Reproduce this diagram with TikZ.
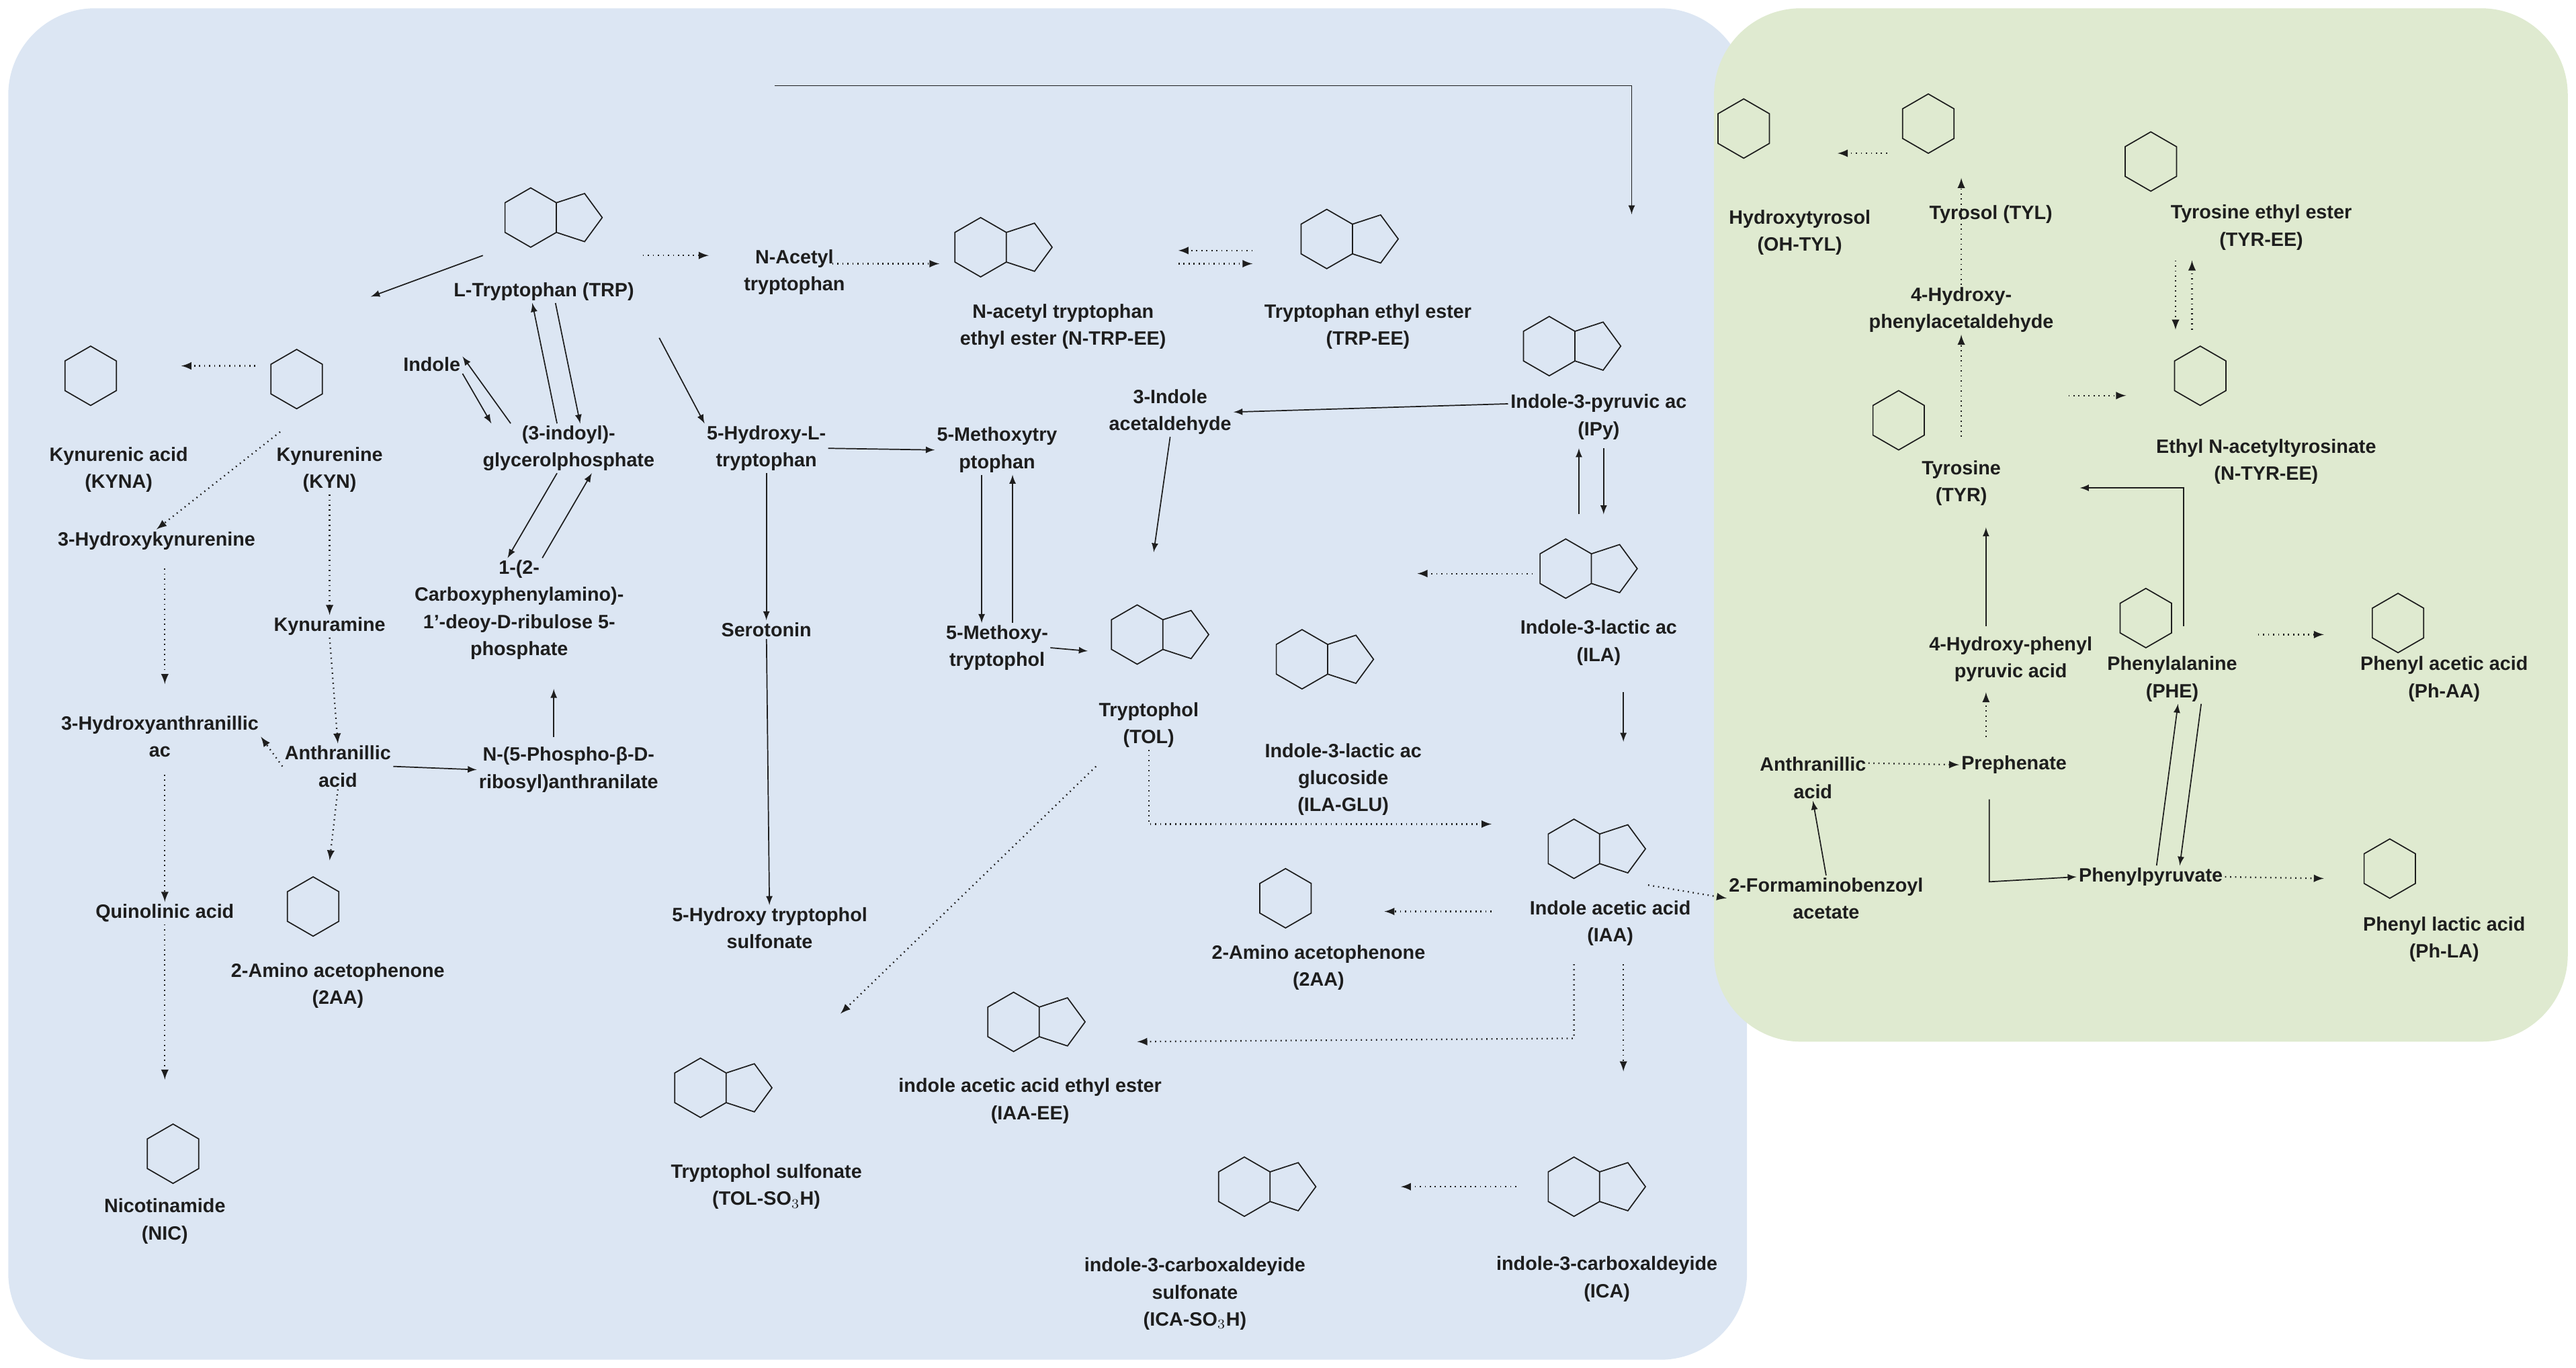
\documentclass[tikz,border=0pt]{standalone}
\usepackage{fontspec}
\setmainfont{Liberation Sans}
\usetikzlibrary{positioning}
\usetikzlibrary{calc}
\usetikzlibrary{shapes,arrows}
\definecolor{bluebg}{RGB}{220,230,243}
\definecolor{greenbg}{RGB}{223,234,208}
\definecolor{ink}{RGB}{30,30,30}
% ring macros (pixel coordinates)
\newcommand{\benz}[2]{\draw[ink,line width=0.6pt] (#1,#2) +(30:18) -- +(90:18) -- +(150:18) -- +(210:18) -- +(270:18) -- +(330:18) -- cycle;}
\newcommand{\indl}[2]{\benz{#1}{#2}
  \draw[ink,line width=0.6pt] (#1,#2) +(15.6,9) -- +(32.7,14.6) -- +(43.4,0) -- +(32.7,-14.6) -- +(15.6,-9);}
\begin{document}
\begin{tikzpicture}[x=0.03cm,y=-0.03cm]
% tikz settings
\fontsize{10}{14}\selectfont\bfseries
\tikzstyle{lbl} = [text=ink, align=center, inner sep=1pt]
\tikzstyle{line} = [draw, ink, line width=0.6pt, -latex]
\tikzstyle{dotline} = [line, dotted, line width=0.8pt]
\useasboundingbox (0,0) rectangle (1563,830);
% backgrounds
\fill[bluebg, rounded corners=45] (5,5) rectangle (1060,825);
\fill[greenbg, rounded corners=45] (1040,5) rectangle (1558,632);

% rings
\indl{322}{132} \indl{595}{150} \indl{805}{145} \indl{940}{210}
\indl{950}{345} \indl{955}{515} \indl{690}{385} \indl{615}{620}
\indl{425}{660} \indl{955}{720} \indl{755}{720} \indl{790}{400}
\foreach \px/\py in {180/230,55/228,190/550,780/545,105/700,1058/78,1170/75,1305/98,1335/228,1152/255,1302/375,1455/378,1450/527}
  {\benz{\px}{\py}}

% the nodes
\node[lbl] (TRP) at (330,177) {L-Tryptophan (TRP)};
\node[lbl] (KYN) at (200,285) {Kynurenine\\(KYN)};
\node[lbl] (KYNA) at (72,285) {Kynurenic acid\\(KYNA)};
\node[lbl] (Indole) at (262,221) {Indole};
\node[lbl] (IGP) at (345,272) {(3-indoyl)-\\glycerolphosphate};
\node[lbl] (CPADR) at (315,370) {1-(2-\\Carboxyphenylamino)-\\1'-deoy-D-ribulose 5-\\phosphate};
\node[lbl] (HK) at (95,328) {3-Hydroxykynurenine};
\node[lbl] (Kyna) at (200,380) {Kynuramine};
\node[lbl] (HAA) at (97,447) {3-Hydroxyanthranillic\\ac};
\node[lbl] (AA) at (205,465) {Anthranillic\\acid};
\node[lbl] (NPRA) at (345,467) {N-(5-Phospho-β-D-\\ribosyl)anthranilate};
\node[lbl] (Quin) at (100,554) {Quinolinic acid};
\node[lbl] (AAP) at (205,598) {2-Amino acetophenone\\(2AA)};
\node[lbl] (NIC) at (100,741) {Nicotinamide\\(NIC)};
\node[lbl] (NAT) at (482,165) {N-Acetyl\\tryptophan};
\node[lbl] (NTRPEE) at (645,198) {N-acetyl tryptophan\\ethyl ester (N-TRP-EE)};
\node[lbl] (TRPEE) at (830,198) {Tryptophan ethyl ester\\(TRP-EE)};
\node[lbl] (HTP) at (465,272) {5-Hydroxy-L-\\tryptophan};
\node[lbl] (MT) at (605,273) {5-Methoxytry\\ptophan};
\node[lbl] (IAld) at (710,250) {3-Indole\\acetaldehyde};
\node[lbl] (IPy) at (970,253) {Indole-3-pyruvic ac\\(IPy)};
\node[lbl] (Ser) at (465,382) {Serotonin};
\node[lbl] (MTOL) at (605,393) {5-Methoxy-\\tryptophol};
\node[lbl] (TOL) at (697,440) {Tryptophol\\(TOL)};
\node[lbl] (ILAGLU) at (815,473) {Indole-3-lactic ac\\glucoside\\(ILA-GLU)};
\node[lbl] (ILA) at (970,390) {Indole-3-lactic ac\\(ILA)};
\node[lbl] (IAA) at (977,560) {Indole acetic acid\\(IAA)};
\node[lbl] (HTS) at (467,563) {5-Hydroxy tryptophol\\sulfonate};
\node[lbl] (TOLS) at (465,720) {Tryptophol sulfonate\\(TOL-SO$_3$H)};
\node[lbl] (IAAEE) at (625,668) {indole acetic acid ethyl ester\\(IAA-EE)};
\node[lbl] (AAPb) at (800,587) {2-Amino acetophenone\\(2AA)};
\node[lbl] (ICAS) at (725,785) {indole-3-carboxaldeyide\\sulfonate\\(ICA-SO$_3$H)};
\node[lbl] (ICA) at (975,776) {indole-3-carboxaldeyide\\(ICA)};
\node[lbl] (FAB) at (1108,545) {2-Formaminobenzoyl\\acetate};
\node[lbl] (AAg) at (1100,472) {Anthranillic\\acid};
\node[lbl] (Pre) at (1222,464) {Prephenate};
\node[lbl] (HPP) at (1220,400) {4-Hydroxy-phenyl\\pyruvic acid};
\node[lbl] (TYR) at (1190,293) {Tyrosine\\(TYR)};
\node[lbl] (HPA) at (1190,188) {4-Hydroxy-\\phenylacetaldehyde};
\node[lbl] (TYL) at (1208,130) {Tyrosol (TYL)};
\node[lbl] (OHTYL) at (1092,141) {Hydroxytyrosol\\(OH-TYL)};
\node[lbl] (TYREE) at (1372,138) {Tyrosine ethyl ester\\(TYR-EE)};
\node[lbl] (NTYREE) at (1375,280) {Ethyl N-acetyltyrosinate\\(N-TYR-EE)};
\node[lbl] (PHE) at (1318,412) {Phenylalanine\\(PHE)};
\node[lbl] (PhAA) at (1483,412) {Phenyl acetic acid\\(Ph-AA)};
\node[lbl] (PPY) at (1305,532) {Phenylpyruvate};
\node[lbl] (PhLA) at (1483,570) {Phenyl lactic acid\\(Ph-LA)};

% solid connectors
\path[line] (293,155) -- (225,180);
\path[line] ([xshift=-6]IGP.north) -- ([xshift=-6]TRP.south);
\path[line] ([xshift=6]TRP.south) -- ([xshift=6]IGP.north);
\path[line] (Indole.south east) -- ([xshift=-40]IGP.north);
\path[line] ([xshift=-30]IGP.north) -- ([yshift=4]Indole.east);
\path[line] ([xshift=12]CPADR.north) -- ([xshift=12]IGP.south);
\path[line] ([xshift=-6]IGP.south) -- ([xshift=-6]CPADR.north);
\path[line] (336,447) -- (336,418);
\path[line] (AA.east) -- (NPRA.west);
\path[line] (400,205) -- (HTP.north west);
\path[line] (HTP.east) -- (MT.west);
\path[line] (HTP) -- (Ser);
\path[line] (Ser) -- (HTS);
\path[line] ([xshift=-8]MT.south) -- ([xshift=-8]MTOL.north);
\path[line] ([xshift=8]MTOL.north) -- ([xshift=8]MT.south);
\path[line] (MTOL.east) -- (660,395);
\path[line] (IAld.south) -- (700,335);
\path[line] (915,245) -- (IAld.east);
\path[line] (470,52) -- (990,52) -- (990,130);
\path[line] (958,312) -- (958,272);
\path[line] (973,272) -- (973,312);
\path[line] (985,420) -- (985,450);
\path[line] (FAB.north) -- (AAg.south);
\path[line] (1207,485) -- (1207,535) -- (PPY.west);
\path[line] (1205,380) -- (1205,320);
\path[line] (1325,380) -- (1325,296) -- (1262,296);
\path[line] ([xshift=3]PPY.north) -- ([xshift=3]PHE.south);
\path[line] ([xshift=15]PHE.south) -- ([xshift=15]PPY.north);

% dotted connectors
\path[dotline] (390,155) -- (430,155);
\path[dotline] (505,160) -- (570,160);
\path[dotline] (760,152) -- (715,152);
\path[dotline] (715,160) -- (760,160);
\path[dotline] (155,222) -- (110,222);
\path[dotline] (170,262) -- (HK.north);
\path[dotline] (KYN.south) -- (Kyna.north);
\path[dotline] (Kyna.south) -- (AA.north);
\path[dotline] (AA.west) -- (HAA.east);
\path[dotline] (AA.south) -- (200,522);
\path[dotline] (100,345) -- (100,415);
\path[dotline] (100,470) -- (Quin.north);
\path[dotline] (Quin.south) -- (100,655);
\path[dotline] (930,348) -- (860,348);
\path[dotline] (TOL.south) -- (697,500) -- (905,500);
\path[dotline] (665,465) -- (510,615);
\path[dotline] (1000,537) -- (FAB.west);
\path[dotline] (905,553) -- (840,553);
\path[dotline] (955,585) -- (955,630) -- (690,632);
\path[dotline] (985,585) -- (985,650);
\path[dotline] (920,720) -- (850,720);
\path[dotline] (AAg.east) ++(0,-9) -- (Pre.west);
\path[dotline] (1205,447) -- (1205,420);
\path[dotline] (1190,265) -- (HPA.south);
\path[dotline] (HPA.north) -- (1190,108);
\path[dotline] (1145,93) -- (1115,93);
\path[dotline] (1255,240) -- (1290,240);
\path[dotline] (1320,158) -- (1320,200);
\path[dotline] (1330,200) -- (1330,158);
\path[dotline] (1370,385) -- (1410,385);
\path[dotline] (PPY.east) -- (1410,533);
\end{tikzpicture}
\end{document}
